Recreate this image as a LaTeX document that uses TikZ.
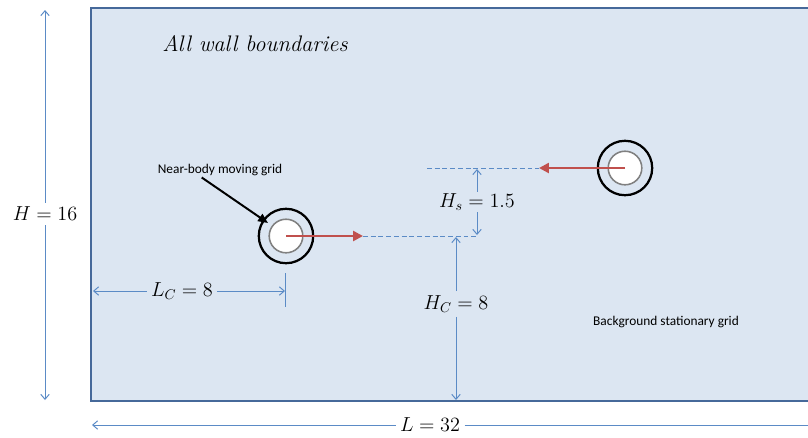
\documentclass[tikz,border=0pt]{standalone}
\usepackage{amsmath}
\usepackage{fontspec}
\newfontfamily\calfont{Carlito}
\usetikzlibrary{arrows.meta, positioning, calc}
\definecolor{gridfill}{HTML}{DCE6F2}
\definecolor{wallblue}{HTML}{46699A}
\definecolor{dimblue}{HTML}{5B8BC6}
\definecolor{motionred}{HTML}{C0504D}

\begin{document}
\begin{tikzpicture}[x=0.025cm, y=-0.025cm,
    dim/.style={draw=dimblue, line width=0.7pt},
    dimarrow/.style={dim, -{Straight Barb[length=3.5pt, width=6pt]}},
    dimlabel/.style={font=\fontsize{14.5}{16}\selectfont, inner sep=3pt},
    guide/.style={dim, dash pattern=on 3.5pt off 2pt},
    outerring/.style={circle, draw=black, line width=1.6pt, minimum size=1.36cm, inner sep=0pt},
    innerring/.style={circle, draw=black!50, fill=white, line width=1.1pt, minimum size=0.84cm, inner sep=0pt},
    motion/.style={draw=motionred, line width=1.8pt, -{Triangle[length=7pt, width=7pt]}},
    smalltext/.style={font=\calfont\fontsize{9.5}{11}\selectfont, inner sep=1pt}]
    \useasboundingbox (0,0) rectangle (808,437);
    \fill[gridfill] (91,8) rectangle (820,401);
    \draw[wallblue, line width=1.5pt] (820,8) -- (91,8) -- (91,401) -- (820,401);

    \node[font=\itshape\fontsize{16}{19}\selectfont] (walls) at (255,44) {All wall boundaries};
    \node[smalltext] (nearlab) at (220,170) {Near-body moving grid};
    \node[smalltext] (backlab) at (666,322) {Background stationary grid};

    \node[outerring] (movL) at (286,236) {};
    \node[innerring] (movLin) at (286,236) {};
    \node[outerring] (movR) at (625,168) {};
    \node[innerring] (movRin) at (625,168) {};

    \coordinate (tipL) at (363,236);
    \coordinate (tipR) at (539,168);
    \coordinate (pointtip) at (268,223);
    \draw[motion] (movLin.center) -- (tipL);
    \draw[motion] (movRin.center) -- (tipR);
    \draw[line width=1.4pt, -{Triangle[length=7pt, width=6pt]}] ([xshift=-13pt]nearlab.south) -- (pointtip);

    \coordinate (upL) at (427,168);
    \coordinate (lowR) at (479,236);
    \draw[guide] (upL) -- (tipR);
    \draw[guide] (tipL) -- (lowR);

    \node[dimlabel] (hlab) at (45,214) {$H = 16$};
    \coordinate (htop) at (45,10);
    \coordinate (hbot) at (45,400);
    \draw[dimarrow] (hlab) -- (htop);
    \draw[dimarrow] (hlab) -- (hbot);

    \node[dimlabel] (llab) at (430,425) {$L = 32$};
    \coordinate (lleft) at (92,425);
    \coordinate (lright) at (820,425);
    \draw[dimarrow] (llab) -- (lleft);
    \draw[dim] (llab) -- (lright);

    \node[dimlabel] (lclab) at (182,291) {$L_C = 8$};
    \coordinate (lcleft) at (93,291);
    \coordinate (lcright) at (285,291);
    \draw[dimarrow] (lclab) -- (lcleft);
    \draw[dimarrow] (lclab) -- (lcright);
    \draw[dim] (285,273) -- (285,307);

    \node[dimlabel] (hclab) at (456,304) {$H_C = 8$};
    \coordinate (hctop) at (456,237);
    \coordinate (hcbot) at (456,400);
    \draw[dimarrow] (hclab) -- (hctop);
    \draw[dimarrow] (hclab) -- (hcbot);

    \node[dimlabel, inner sep=1pt] (hslab) at (477,202) {$H_s = 1.5$};
    \coordinate (hsup) at (477,169);
    \coordinate (hsdown) at (477,235);
    \draw[dimarrow] (hslab) -- (hsup);
    \draw[dimarrow] (hslab) -- (hsdown);
\end{tikzpicture}
\end{document}
